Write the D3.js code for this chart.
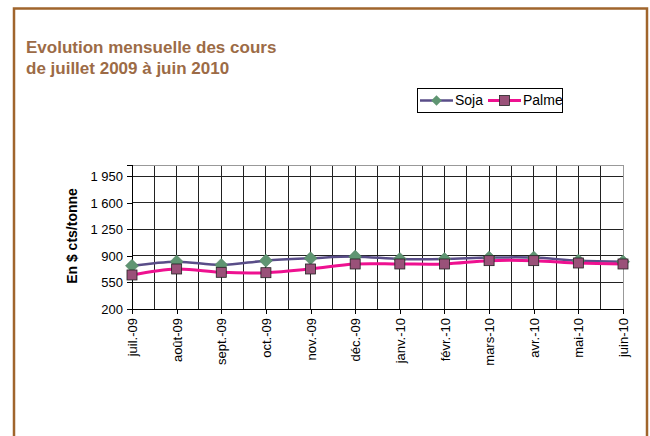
<!DOCTYPE html>
<html>
<head>
<meta charset="utf-8">
<script src="https://cdn.jsdelivr.net/npm/d3@7"></script>
<style>
    body { margin: 0; background: #fff; }
    svg { display: block; font-family: Arial, "Liberation Sans", sans-serif; }
</style>
</head>
<body>
<div id="chart"></div>
<script>

// data
let months = ["juil.-09", "août-09", "sept.-09", "oct.-09", "nov.-09", "déc.-09",
    "janv.-10", "févr.-10", "mars-10", "avr.-10", "mai-10", "juin-10"];
let soja = [770, 825, 781, 838, 869, 891, 860, 860, 878, 878, 838, 825];
let palme = [649, 728, 684, 679, 728, 794, 794, 794, 838, 838, 807, 794];
let yTicks = [200, 550, 900, 1250, 1600, 1950];

let width = 650, height = 436;
let margin = {top: 165, right: 27, bottom: 127, left: 132};
let w = width - margin.left - margin.right;
let h = height - margin.top - margin.bottom;

let svg = d3.select("#chart").append("svg")
    .attr("width", width)
    .attr("height", height);

// brown frame
svg.append("rect")
    .attr("x", 14).attr("y", 8.5)
    .attr("width", 633).attr("height", 440)
    .attr("fill", "#fff")
    .attr("stroke", "#a0652c")
    .attr("stroke-width", 2.5);

// title
let title = svg.append("text")
    .attr("fill", "#9c6b46")
    .style("font-size", "17px")
    .style("font-weight", "bold");
title.append("tspan").attr("x", 26).attr("y", 53).text("Evolution mensuelle des cours");
title.append("tspan").attr("x", 26).attr("y", 74).text("de juillet 2009 à juin 2010");

let g = svg.append("g")
    .attr("transform", `translate(${margin.left}, ${margin.top})`);

let x = d3.scalePoint()
    .domain(months)
    .range([0, w]);

let y = d3.scaleLinear()
    .domain([200, 2100])
    .range([h, 0]);

// vertical grid : on each month and halfway between
let step = x.step();
let gridX = d3.range(0, months.length * 2 - 1).map(i => i * step / 2);
g.selectAll(".vgrid")
    .data(gridX)
    .enter().append("line")
    .attr("x1", d => d).attr("x2", d => d)
    .attr("y1", 0).attr("y2", h)
    .attr("stroke", "#222")
    .attr("stroke-width", 1)
    .attr("shape-rendering", "crispEdges");

g.selectAll(".hgrid")
    .data(yTicks)
    .enter().append("line")
    .attr("x1", 0).attr("x2", w)
    .attr("y1", d => y(d)).attr("y2", d => y(d))
    .attr("stroke", "#222")
    .attr("shape-rendering", "crispEdges");

// plot area border top/right
g.append("path")
    .attr("d", `M0,0H${w}V${h}`)
    .attr("fill", "none")
    .attr("stroke", "#999")
    .attr("shape-rendering", "crispEdges");

// axes
let fmt = d => d3.format(",")(d).replace(",", " ");

let yAxis = g.append("g")
    .call(d3.axisLeft(y).tickValues(yTicks).tickFormat(fmt).tickSize(5).tickPadding(4));
let xAxis = g.append("g")
    .attr("transform", `translate(0, ${h})`)
    .call(d3.axisBottom(x).tickSize(5).tickPadding(4));

[yAxis, xAxis].forEach(a => {
    a.select(".domain").attr("stroke", "#000").attr("shape-rendering", "crispEdges");
    a.selectAll(".tick line").attr("stroke", "#000").attr("shape-rendering", "crispEdges");
});

yAxis.selectAll("text")
    .style("font-size", "13px")
    .attr("fill", "#000");

xAxis.selectAll("text")
    .style("font-size", "13px")
    .attr("fill", "#000")
    .attr("transform", "rotate(-90)")
    .attr("text-anchor", "end")
    .attr("x", -9)
    .attr("y", 0)
    .attr("dy", "0.35em");

// y axis title
svg.append("text")
    .attr("transform", "translate(77, 236) rotate(-90)")
    .attr("text-anchor", "middle")
    .style("font-size", "14px")
    .style("font-weight", "bold")
    .text("En $ cts/tonne");

// lines
let line = d3.line()
    .x((d, i) => x(months[i]))
    .y(d => y(d))
    .curve(d3.curveCatmullRom.alpha(0.5));

g.append("path")
    .datum(soja)
    .attr("d", line)
    .attr("fill", "none")
    .attr("stroke", "#594d88")
    .attr("stroke-width", 2.5);

g.append("path")
    .datum(palme)
    .attr("d", line)
    .attr("fill", "none")
    .attr("stroke", "#ee1190")
    .attr("stroke-width", 3);

// markers
let diamond = d3.symbol().type(d3.symbolDiamond2).size(110);

g.selectAll(".soja-pt")
    .data(soja)
    .enter().append("path")
    .attr("transform", (d, i) => `translate(${x(months[i])}, ${y(d)})`)
    .attr("d", diamond)
    .attr("fill", "#5f9572")
    .attr("stroke", "#4e7d5f")
    .attr("stroke-width", 0.5);

g.selectAll(".palme-pt")
    .data(palme)
    .enter().append("rect")
    .attr("x", (d, i) => x(months[i]) - 5)
    .attr("y", d => y(d) - 5)
    .attr("width", 10).attr("height", 10)
    .attr("fill", "#9a5179")
    .attr("stroke", "#222")
    .attr("stroke-width", 0.8);

// legend
let legend = svg.append("g").attr("transform", "translate(417, 88)");
legend.append("rect")
    .attr("x", 0.5).attr("y", 0.5)
    .attr("width", 145).attr("height", 24)
    .attr("fill", "#fff")
    .attr("stroke", "#000");

let items = [
    {name: "Soja", x0: 3, color: "#594d88"},
    {name: "Palme", x0: 71, color: "#ee1190"}
];
items.forEach((it, i) => {
    let lg = legend.append("g").attr("transform", `translate(${it.x0}, 12.5)`);
    lg.append("line")
        .attr("x1", 0).attr("x2", 33)
        .attr("stroke", it.color)
        .attr("stroke-width", i === 0 ? 2.5 : 3);
    if (i === 0) {
        lg.append("path")
            .attr("transform", "translate(16.5, 0)")
            .attr("d", d3.symbol().type(d3.symbolDiamond2).size(70))
            .attr("fill", "#5f9572");
    } else {
        lg.append("rect")
            .attr("x", 11.5).attr("y", -5)
            .attr("width", 10).attr("height", 10)
            .attr("fill", "#9a5179")
            .attr("stroke", "#222")
            .attr("stroke-width", 0.8);
    }
    lg.append("text")
        .attr("x", 35)
        .attr("dy", "0.35em")
        .style("font-size", "14px")
        .text(it.name);
});

</script>
</body>
</html>
